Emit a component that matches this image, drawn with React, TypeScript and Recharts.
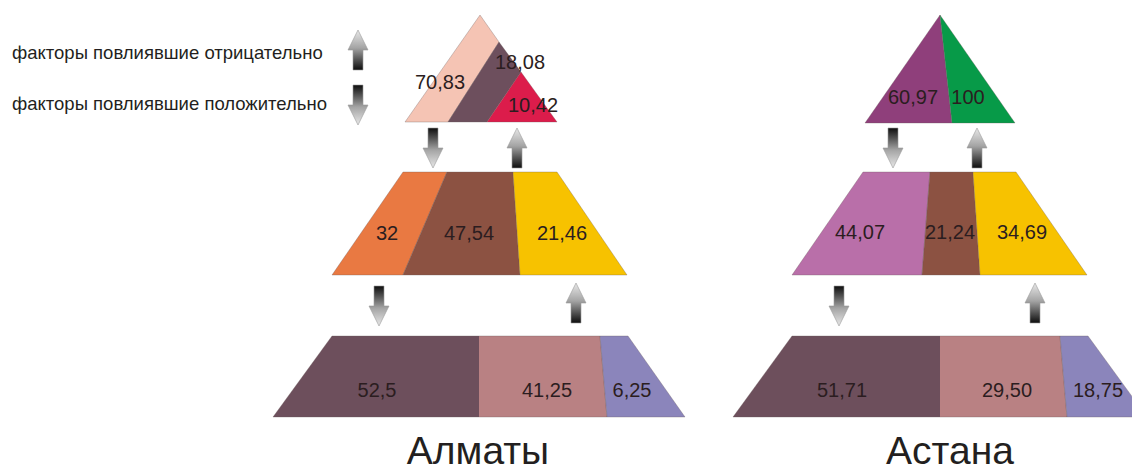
import React from 'react';
import { ComposedChart, Area, Scatter, XAxis, YAxis } from 'recharts';

const WIDTH = 1132;
const HEIGHT = 473;
const FONT = '"Liberation Sans", Arial, sans-serif';

type Pt = [number, number];

// --- captions ---
const cities = ['Алматы', 'Астана'];
const legendLabels = ['факторы повлиявшие отрицательно', 'факторы повлиявшие положительно'];

// --- tier values, as printed on each segment ---
const almatyTop = ['70,83', '18,08', '10,42'];
const almatyMiddle = ['32', '47,54', '21,46'];
const almatyBottom = ['52,5', '41,25', '6,25'];
const astanaTop = ['60,97', '100'];
const astanaMiddle = ['44,07', '21,24', '34,69'];
const astanaBottom = ['51,71', '29,50', '18,75'];

// --- segment outlines in diagram units (x to the right, y downwards) ---
const almatyTopShapes: Pt[][] = [
  [[480, 15], [499, 42], [448, 122], [405, 122]],
  [[499, 42], [521, 72], [487, 122], [448, 122]],
  [[521, 72], [557, 122], [487, 122]],
];
const almatyMiddleShapes: Pt[][] = [
  [[403, 172], [447, 172], [403, 275], [332, 275]],
  [[447, 172], [513, 172], [520, 275], [403, 275]],
  [[513, 172], [557, 172], [627, 275], [520, 275]],
];
const almatyBottomShapes: Pt[][] = [
  [[332, 336], [479, 336], [479, 417], [273, 417]],
  [[479, 336], [600, 336], [607, 417], [479, 417]],
  [[600, 336], [628, 336], [685, 417], [607, 417]],
];
const astanaTopShapes: Pt[][] = [
  [[940, 15], [952, 123], [865, 123]],
  [[940, 15], [1015, 123], [952, 123]],
];
const astanaMiddleShapes: Pt[][] = [
  [[863, 172], [930, 172], [922, 275], [792, 275]],
  [[930, 172], [973, 172], [980, 275], [922, 275]],
  [[973, 172], [1016, 172], [1087, 275], [980, 275]],
];
const astanaBottomShapes: Pt[][] = [
  [[792, 336], [940, 336], [940, 417], [733, 417]],
  [[940, 336], [1060, 336], [1067, 417], [940, 417]],
  [[1060, 336], [1088, 336], [1147, 417], [1067, 417]],
];

// label anchors (centre of each number)
const almatyTopLabelPos: Pt[] = [[440, 82], [520, 62], [533, 105]];
const almatyMiddleLabelPos: Pt[] = [[387, 233], [469, 233], [562, 233]];
const almatyBottomLabelPos: Pt[] = [[377, 390], [547, 390], [632, 390]];
const astanaTopLabelPos: Pt[] = [[913, 97], [968, 97]];
const astanaMiddleLabelPos: Pt[] = [[860, 232], [950, 232], [1022, 232]];
const astanaBottomLabelPos: Pt[] = [[842, 390], [1007, 390], [1098, 390]];

// fills
const almatyTopColors = ['#f5c4b4', '#6d4f5d', '#dc1c4b'];
const middleColorsA = ['#e97942', '#8c5242', '#f7c200'];
const bottomColors = ['#6d4f5c', '#b98183', '#8b85bb'];
const astanaTopColors = ['#8f3f7b', '#079a48'];
const middleColorsB = ['#b96fa9', '#8c5242', '#f7c200'];

// flow arrows: centre point and direction
const arrows: { x: number; y: number; dir: 'up' | 'down' }[] = [
  { x: 358, y: 50, dir: 'up' },
  { x: 358, y: 105, dir: 'down' },
  { x: 433, y: 148, dir: 'down' },
  { x: 517, y: 148, dir: 'up' },
  { x: 379, y: 306, dir: 'down' },
  { x: 576, y: 303, dir: 'up' },
  { x: 893, y: 148, dir: 'down' },
  { x: 977, y: 148, dir: 'up' },
  { x: 839, y: 306, dir: 'down' },
  { x: 1035, y: 303, dir: 'up' },
];

const tiers = [
  { values: almatyTop, shapes: almatyTopShapes, pos: almatyTopLabelPos, colors: almatyTopColors },
  { values: almatyMiddle, shapes: almatyMiddleShapes, pos: almatyMiddleLabelPos, colors: middleColorsA },
  { values: almatyBottom, shapes: almatyBottomShapes, pos: almatyBottomLabelPos, colors: bottomColors },
  { values: astanaTop, shapes: astanaTopShapes, pos: astanaTopLabelPos, colors: astanaTopColors },
  { values: astanaMiddle, shapes: astanaMiddleShapes, pos: astanaMiddleLabelPos, colors: middleColorsB },
  { values: astanaBottom, shapes: astanaBottomShapes, pos: astanaBottomLabelPos, colors: bottomColors },
];

// vertical extent of a convex outline at a given x
function spanAt(poly: Pt[], x: number): [number, number] {
  const ys: number[] = [];
  for (let i = 0; i < poly.length; i++) {
    const [x1, y1] = poly[i];
    const [x2, y2] = poly[(i + 1) % poly.length];
    if (x1 === x2) {
      if (x === x1) ys.push(y1, y2);
      continue;
    }
    if (x < Math.min(x1, x2) || x > Math.max(x1, x2)) continue;
    ys.push(y1 + ((y2 - y1) * (x - x1)) / (x2 - x1));
  }
  return [Math.max(...ys), Math.min(...ys)];
}

// every segment becomes a range series keyed s0, s1, ...
const segments = tiers.flatMap((t) => t.shapes.map((shape, i) => ({ shape, color: t.colors[i] })));

const rows = new Map<number, Record<string, any>>();
segments.forEach((seg, k) => {
  const xs = Array.from(new Set(seg.shape.map((p) => p[0])));
  xs.forEach((x) => {
    const row = rows.get(x) ?? { x };
    row[`s${k}`] = spanAt(seg.shape, x);
    rows.set(x, row);
  });
});
const chartData = Array.from(rows.values()).sort((a, b) => a.x - b.x);

type TextMark = { x: number; y: number; text: string; size: number; anchor: 'start' | 'middle'; color: string };

const valueLabels: TextMark[] = tiers.flatMap((t) =>
  t.values.map((v, i) => ({ x: t.pos[i][0], y: t.pos[i][1], text: v, size: 20, anchor: 'middle' as const, color: '#2b1d20' }))
);
const captionLabels: TextMark[] = [
  { x: 12, y: 52, text: legendLabels[0], size: 18.5, anchor: 'start', color: '#231f20' },
  { x: 12, y: 103, text: legendLabels[1], size: 18.5, anchor: 'start', color: '#231f20' },
  { x: 478, y: 450, text: cities[0], size: 39, anchor: 'middle', color: '#231f20' },
  { x: 950, y: 450, text: cities[1], size: 39, anchor: 'middle', color: '#231f20' },
];

const TextShape = (props: any) => {
  const { cx, cy, payload } = props;
  return (
    <text
      x={cx}
      y={cy + payload.size * 0.36}
      textAnchor={payload.anchor}
      fontSize={payload.size}
      fontFamily={FONT}
      fill={payload.color}
    >
      {payload.text}
    </text>
  );
};

const ArrowShape = (props: any) => {
  const { cx, cy, payload } = props;
  const h = 20; // half height
  const head = 10; // half head width
  const stem = 5; // half stem width
  const pts =
    payload.dir === 'up'
      ? [[cx, cy - h], [cx + head, cy], [cx + stem, cy], [cx + stem, cy + h], [cx - stem, cy + h], [cx - stem, cy], [cx - head, cy]]
      : [[cx, cy + h], [cx + head, cy], [cx + stem, cy], [cx + stem, cy - h], [cx - stem, cy - h], [cx - stem, cy], [cx - head, cy]];
  return (
    <polygon
      points={pts.map((p) => p.join(',')).join(' ')}
      fill={payload.dir === 'up' ? 'url(#arrowUp)' : 'url(#arrowDown)'}
      stroke="#9a9a9a"
      strokeWidth={0.6}
    />
  );
};

export default function App() {
  return (
    <div style={{ position: 'absolute', left: 0, top: 0, width: WIDTH, height: HEIGHT, background: '#fff' }}>
      <ComposedChart width={WIDTH} height={HEIGHT} data={chartData} margin={{ top: 0, right: 0, bottom: 0, left: 0 }}>
        <defs>
          <linearGradient id="arrowUp" x1="0" y1="0" x2="0" y2="1">
            <stop offset="0%" stopColor="#e8e8e8" />
            <stop offset="45%" stopColor="#a4a4a4" />
            <stop offset="100%" stopColor="#0d0d0d" />
          </linearGradient>
          <linearGradient id="arrowDown" x1="0" y1="0" x2="0" y2="1">
            <stop offset="0%" stopColor="#0d0d0d" />
            <stop offset="55%" stopColor="#a4a4a4" />
            <stop offset="100%" stopColor="#e8e8e8" />
          </linearGradient>
        </defs>
        <XAxis dataKey="x" type="number" domain={[0, WIDTH]} allowDataOverflow hide />
        <YAxis type="number" domain={[0, HEIGHT]} reversed allowDataOverflow hide />
        {segments.map((seg, k) => (
          <Area
            key={k}
            dataKey={`s${k}`}
            type="linear"
            connectNulls
            fill={seg.color}
            fillOpacity={1}
            stroke="#6a5a58"
            strokeOpacity={0.45}
            strokeWidth={0.7}
            dot={false}
            activeDot={false}
            isAnimationActive={false}
          />
        ))}
        <Scatter data={arrows} dataKey="y" shape={ArrowShape} isAnimationActive={false} />
        <Scatter data={[...valueLabels, ...captionLabels]} dataKey="y" shape={TextShape} isAnimationActive={false} />
      </ComposedChart>
    </div>
  );
}
